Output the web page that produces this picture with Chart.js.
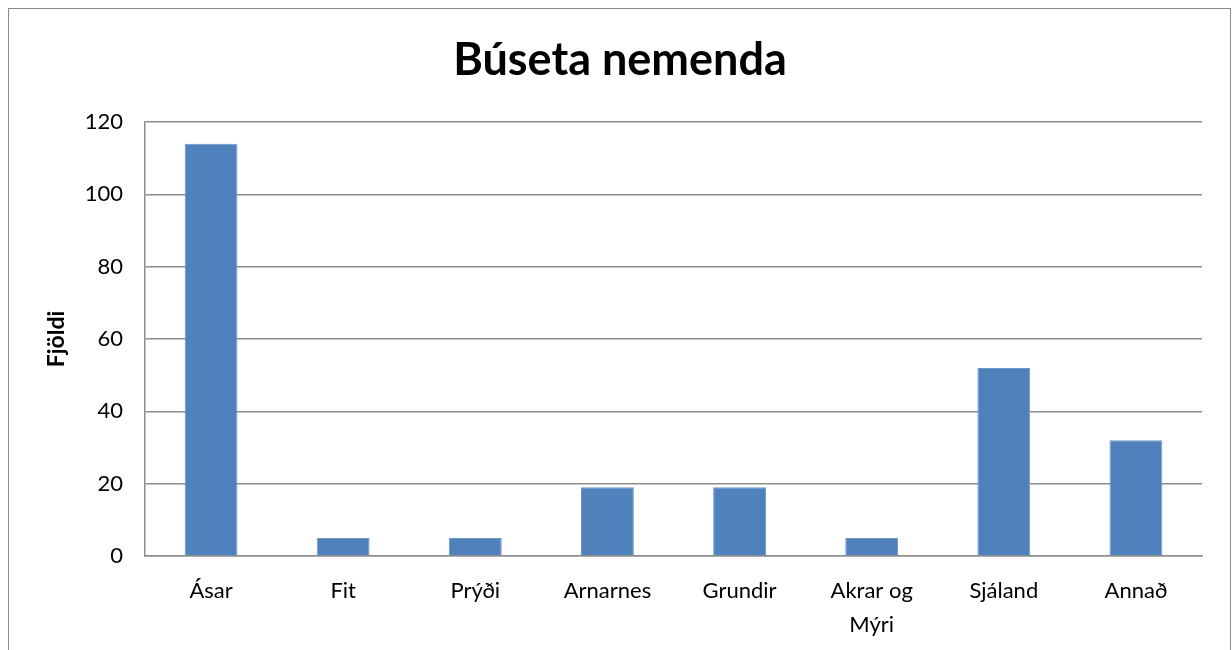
<html>
	<head>
		<script src="https://cdn.jsdelivr.net/npm/chart.js"></script>
		<style>
			body {
				margin: 0;
				background: #fff;
			}
			#frame {
				position: absolute;
				left: 8px;
				top: 8px;
				width: 1221px;
				height: 700px;
				border: 1px solid #8c8c8c;
				pointer-events: none;
			}
			canvas {
				position: absolute;
				left: 0;
				top: 0;
			}
		</style>
	</head>
	<body>
		<canvas id="busetaChart" width="1232" height="650"></canvas>
		<div id="frame"></div>

		<script>
			const categories = ['Ásar', 'Fit', 'Prýði', 'Arnarnes', 'Grundir', ['Akrar og', 'Mýri'], 'Sjáland', 'Annað'];
			const counts = [114, 5, 5, 19, 19, 5, 52, 32];
			const yTicks = [0, 20, 40, 60, 80, 100, 120];

			const fontFamily = 'Lato, "Open Sans", sans-serif';
			const gridColor = '#8e8e8e';

			const ctx = document.getElementById('busetaChart').getContext('2d');
			const chart = new Chart(ctx, {
				type: 'bar',
				data: {
					labels: categories,
					datasets: [{
						label: 'Fjöldi',
						data: counts,
						backgroundColor: '#4f81bd',
						borderColor: '#6f97c8',
						borderWidth: 1,
						barPercentage: 0.4,
						categoryPercentage: 1
					}]
				},
				options: {
					responsive: false,
					maintainAspectRatio: false,
					animation: false,
					layout: { padding: { left: 8, right: 0, top: 0, bottom: 0 } },
					plugins: {
						legend: { display: false },
						tooltip: { enabled: false },
						title: {
							display: true,
							text: 'Búseta nemenda',
							color: '#000',
							font: { family: fontFamily, size: 45, weight: 'bold' },
							padding: { top: 33, bottom: 35 }
						}
					},
					scales: {
						x: {
							grid: { display: false, drawTicks: false },
							border: { color: gridColor, width: 1.5 },
							ticks: {
								color: '#000',
								padding: 18,
								maxRotation: 0,
								autoSkip: false,
								font: { family: fontFamily, size: 22, lineHeight: '34px' }
							},
							afterFit: scale => { scale.height = 94; }
						},
						y: {
							min: 0,
							max: 120,
							afterBuildTicks: scale => { scale.ticks = yTicks.map(v => ({ value: v })); },
							grid: { color: gridColor, lineWidth: 1.5, drawTicks: false },
							border: { color: gridColor, width: 1.5 },
							ticks: {
								color: '#000',
								padding: 22,
								font: { family: fontFamily, size: 22 }
							},
							title: {
								display: true,
								text: 'Fjöldi',
								color: '#000',
								font: { family: fontFamily, size: 23, weight: 'bold' },
								padding: { top: 35, bottom: 0 }
							},
							afterFit: scale => { scale.width = 137; }
						},
						// empty axis that keeps the plot 30px off the right edge
						yRight: {
							position: 'right',
							grid: { display: false, drawTicks: false },
							border: { display: false },
							ticks: { display: false },
							afterFit: scale => { scale.width = 30; }
						}
					}
				}
			});
		</script>
	</body>
</html>
